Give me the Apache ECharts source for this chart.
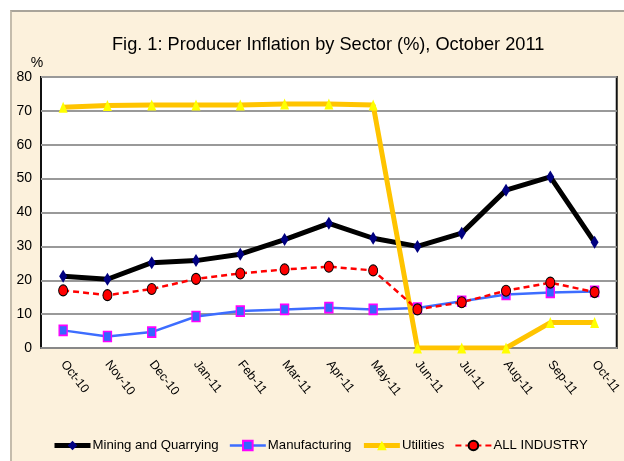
<!DOCTYPE html>
<html>
<head>
<meta charset="utf-8">
<script src="https://cdn.jsdelivr.net/npm/echarts@6/dist/echarts.min.js"></script>
<style>
  html, body { margin: 0; padding: 0; background: #ffffff; }
  #wrap { position: relative; width: 624px; height: 461px; background: #ffffff; overflow: hidden; }
  #paper { position: absolute; left: 10px; top: 10px; width: 614px; height: 451px;
           background: #fcf1dc; border-left: 2px solid #c4bcac; border-top: 2px solid #a9a49a; box-sizing: border-box; }
  #chart { position: absolute; left: 0; top: 0; width: 624px; height: 461px; }
</style>
</head>
<body>
<div id="wrap">
  <div id="paper"></div>
  <div id="chart"></div>
</div>
<script>
const categories = ['Oct-10','Nov-10','Dec-10','Jan-11','Feb-11','Mar-11','Apr-11','May-11','Jun-11','Jul-11','Aug-11','Sep-11','Oct-11'];
const mining        = [21.2, 20.3, 25.2, 25.8, 27.7, 32.0, 36.8, 32.4, 30.0, 33.9, 46.6, 50.5, 31.2];
const manufacturing = [5.2, 3.4, 4.7, 9.3, 10.9, 11.4, 11.9, 11.4, 11.8, 13.8, 15.8, 16.4, 16.7];
const utilities     = [71.1, 71.6, 71.7, 71.7, 71.7, 72.0, 72.0, 71.7, 0, 0, 0, 7.5, 7.5];
const allIndustry   = [17.0, 15.6, 17.4, 20.4, 22.0, 23.2, 24.0, 22.9, 11.4, 13.5, 16.9, 19.3, 16.5];
const yTicks = { min: 0, max: 80, interval: 10 };
const seriesNames = ['Mining and Quarrying', 'Manufacturing', 'Utilities', 'ALL INDUSTRY'];

const FONT = "'Liberation Sans', Arial, sans-serif";
const chart = echarts.init(document.getElementById('chart'), null, { renderer: 'canvas' });
chart.setOption({
  backgroundColor: 'transparent',
  animation: false,
  title: {
    text: 'Fig. 1: Producer Inflation by Sector (%), October 2011',
    left: 107, top: 31,
    textStyle: { fontFamily: FONT, fontSize: 18.2, fontWeight: 'normal', color: '#000' }
  },
  legend: {
    left: 47, top: 434,
    itemWidth: 36, itemHeight: 12, itemGap: 10,
    textStyle: { fontFamily: FONT, fontSize: 13.2, color: '#000', padding: [0, 0, 0, -3] },
    data: [
      { name: seriesNames[0], lineStyle: { width: 5 } },
      { name: seriesNames[1], lineStyle: { width: 2.5 } },
      { name: seriesNames[2], lineStyle: { width: 5 } },
      { name: seriesNames[3], lineStyle: { width: 2 } }
    ]
  },
  grid: {
    left: 41, top: 77, right: 5, bottom: 113,
    show: true, backgroundColor: '#ffffff', borderColor: '#111', borderWidth: 2
  },
  xAxis: {
    type: 'category', data: categories, boundaryGap: true,
    axisLine: { show: true, lineStyle: { color: '#888', width: 2 } },
    axisTick: { show: false },
    axisLabel: { interval: 0, rotate: -52, margin: 14, fontFamily: FONT, fontSize: 12.5, color: '#000' }
  },
  yAxis: {
    type: 'value', min: yTicks.min, max: yTicks.max, interval: yTicks.interval,
    name: '%', nameLocation: 'end', nameGap: 3,
    nameTextStyle: { fontFamily: FONT, fontSize: 14, color: '#000', padding: [0, 8, 0, 0] },
    axisLine: { show: false }, axisTick: { show: false },
    axisLabel: { fontFamily: FONT, fontSize: 14, color: '#000', margin: 9 },
    splitLine: { lineStyle: { color: '#999', width: 2 } }
  },
  series: [
    {
      name: seriesNames[0], type: 'line', data: mining,
      lineStyle: { color: '#000', width: 5 },
      itemStyle: { color: '#000080' },
      symbol: 'diamond', symbolSize: [8, 13], showAllSymbol: true
    },
    {
      name: seriesNames[1], type: 'line', data: manufacturing,
      lineStyle: { color: '#3d6dff', width: 2.5 },
      itemStyle: { color: '#3366ff', borderColor: '#ff00ff', borderWidth: 1.5 },
      symbol: 'rect', symbolSize: [8, 10], showAllSymbol: true
    },
    {
      name: seriesNames[2], type: 'line', data: utilities,
      lineStyle: { color: '#ffc400', width: 5 },
      itemStyle: { color: '#ffff00' },
      symbol: 'triangle', symbolSize: [9, 11], showAllSymbol: true
    },
    {
      name: seriesNames[3], type: 'line', data: allIndustry,
      lineStyle: { color: '#ff0000', width: 2.5, type: [6, 4] },
      itemStyle: { color: '#ff0000', borderColor: '#000', borderWidth: 1 },
      symbol: 'circle', symbolSize: [9, 11], showAllSymbol: true
    }
  ]
});
</script>
</body>
</html>
